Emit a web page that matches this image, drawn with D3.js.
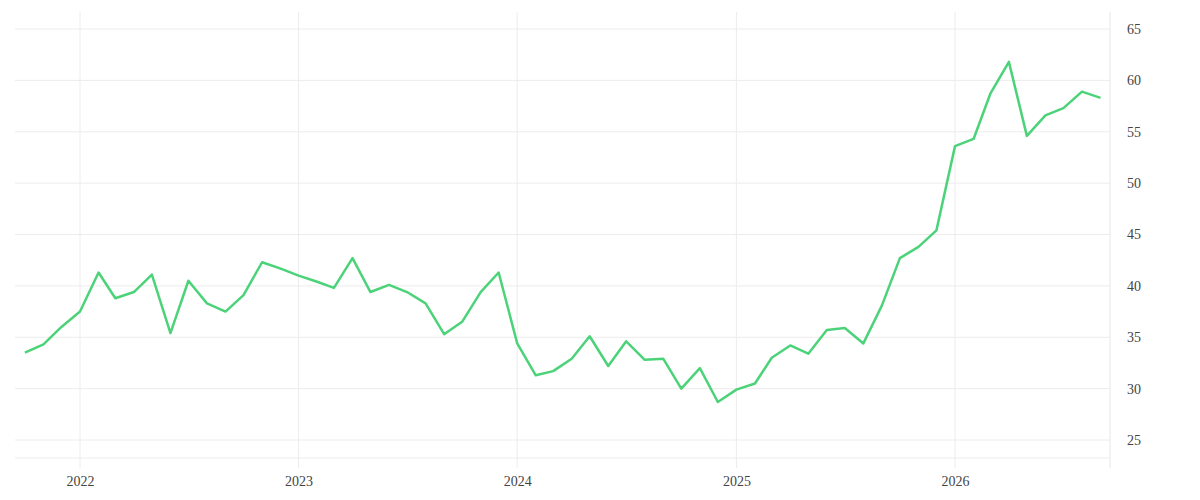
<!DOCTYPE html><html><head><meta charset="utf-8"><script src="https://cdn.jsdelivr.net/npm/d3@7"></script>
<style>body{margin:0;background:#fff}</style></head><body><svg id="c" width="1200" height="500"></svg><script>
const startMonth = "2021-10";
const values = [33.5,34.3,36.0,37.5,41.3,38.8,39.4,41.1,35.4,40.5,38.3,37.5,39.1,42.3,41.7,41.0,40.4,39.8,42.7,39.4,40.1,39.4,38.3,35.3,36.5,39.4,41.3,34.4,31.3,31.7,32.9,35.1,32.2,34.6,32.8,32.9,30.0,32.0,28.7,29.9,30.5,33.0,34.2,33.4,35.7,35.9,34.4,38.1,42.7,43.8,45.4,53.6,54.3,58.7,61.8,54.6,56.6,57.3,58.9,58.3];
const yTicks = [25,30,35,40,45,50,55,60,65];
const xTickYears = ["2022","2023","2024","2025","2026"];
const parse = d3.timeParse("%Y-%m");
const s = parse(startMonth);
const data = values.map((v,i)=>({d:d3.timeMonth.offset(s,i),v}));
const svg = d3.select("#c");
const x = d3.scaleTime().domain([parse("2022-01"),parse("2026-01")]).range([80,955]);
const y = d3.scaleLinear().domain([25,65]).range([440,29]);
const font = "'Liberation Serif', serif";
const L=15,R=1110,T=12,B=458;
svg.append("g").selectAll("line").data(yTicks).join("line")
 .attr("x1",L).attr("x2",R).attr("y1",d=>y(d)).attr("y2",d=>y(d)).attr("stroke","#ececec");
svg.append("line").attr("x1",L).attr("x2",R).attr("y1",B).attr("y2",B).attr("stroke","#ececec");
svg.append("g").selectAll("line").data(xTickYears).join("line")
 .attr("x1",d=>x(parse(d+"-01"))).attr("x2",d=>x(parse(d+"-01"))).attr("y1",T).attr("y2",468).attr("stroke","#ececec");
svg.append("line").attr("x1",R).attr("x2",R).attr("y1",T).attr("y2",468).attr("stroke","#e6e6e6");
const ya = svg.append("g").attr("transform",`translate(${R},0)`).call(d3.axisRight(y).tickValues(yTicks).tickSize(0).tickPadding(17));
ya.select(".domain").remove();
ya.selectAll("text").attr("font-family",font).attr("font-size",14).attr("fill","#444");
const xa = svg.append("g").attr("transform",`translate(0,${B})`).call(d3.axisBottom(x).tickValues(xTickYears.map(t=>parse(t+"-01"))).tickFormat(d3.timeFormat("%Y")).tickSize(0).tickPadding(18));
xa.select(".domain").remove();
xa.selectAll("text").attr("font-family",font).attr("font-size",14).attr("fill","#444");
svg.append("path").datum(data).attr("fill","none").attr("stroke","#4cd37a").attr("stroke-width",2.5).attr("stroke-linejoin","round")
 .attr("d",d3.line().x(d=>x(d.d)).y(d=>y(d.v)));
</script></body></html>
